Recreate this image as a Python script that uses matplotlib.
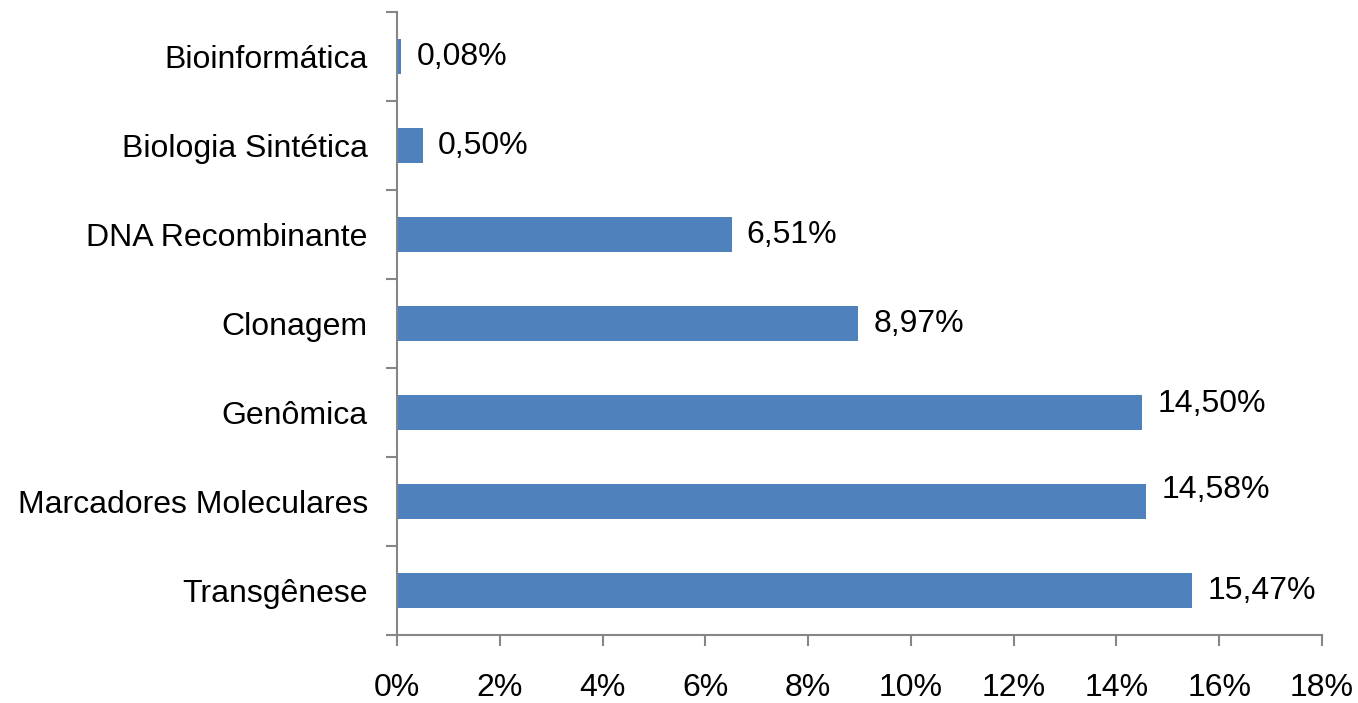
import numpy as np
import matplotlib.pyplot as plt
from matplotlib.ticker import FuncFormatter, MultipleLocator

plt.rcParams['font.family'] = ['Liberation Sans', 'DejaVu Sans']

areas = ['Transgênese', 'Marcadores Moleculares', 'Genômica', 'Clonagem',
         'DNA Recombinante', 'Biologia Sintética', 'Bioinformática']
percentuais = [15.47, 14.58, 14.50, 8.97, 6.51, 0.50, 0.08]
rotulos = ['15,47%', '14,58%', '14,50%', '8,97%', '6,51%', '0,50%', '0,08%']
# small vertical nudges of the value labels (points), as in the original
deslocamento_y = [0, 8, 6, 0, 0, 0, 0]

fig = plt.figure(figsize=(13.58, 7.03), dpi=100)
ax = fig.add_axes([0.2923, 0.0967, 0.6812, 0.886])

y = np.arange(len(areas))
ax.barh(y, percentuais, height=0.4, color='#4f81bd')

for i in range(len(areas)):
    ax.annotate(rotulos[i], (percentuais[i], y[i]), xytext=(11, deslocamento_y[i]),
                textcoords='offset points', va='center', ha='left', fontsize=23)

ax.set_xlim(0, 18)
ax.set_ylim(-0.5, len(areas) - 0.5)
ax.xaxis.set_major_locator(MultipleLocator(2))
ax.xaxis.set_major_formatter(FuncFormatter(lambda v, p: '%d%%' % v))

ax.set_yticks(y)
ax.set_yticklabels(areas)
ax.set_yticks(np.arange(-0.5, len(areas), 1), minor=True)
ax.tick_params(axis='y', which='major', length=0, pad=21, labelsize=23)
ax.tick_params(axis='y', which='minor', length=8, color='#868686', width=1.5)
ax.tick_params(axis='x', length=8, color='#868686', width=1.5, pad=19, labelsize=23)

for s in ['top', 'right']:
    ax.spines[s].set_visible(False)
for s in ['left', 'bottom']:
    ax.spines[s].set_color('#868686')
    ax.spines[s].set_linewidth(1.5)

fig.savefig('out.png', dpi=100)
